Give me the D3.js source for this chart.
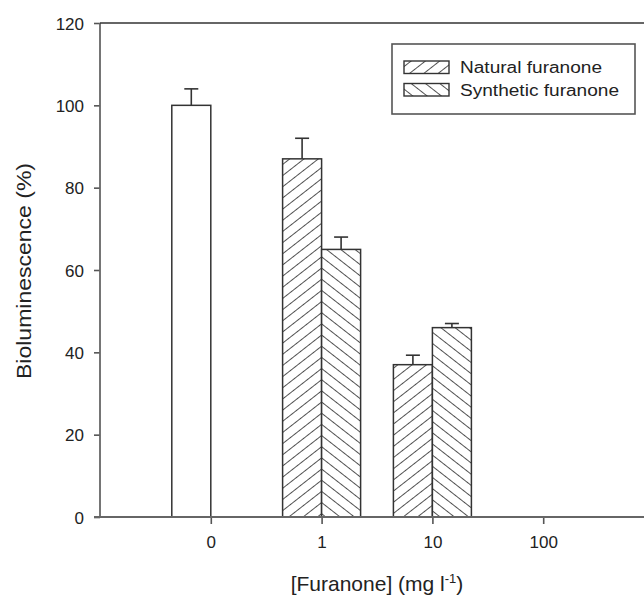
<!DOCTYPE html>
<html>
<head>
<meta charset="utf-8">
<script src="https://cdn.jsdelivr.net/npm/d3@7"></script>
<style>
  body { margin: 0; background: #fff; }
  svg { display: block; font-family: "Liberation Sans", Arial, sans-serif; }
</style>
</head>
<body>
<svg id="chart" width="644" height="601"></svg>
<script>
// chart data
var categories = ['0', '1', '10', '100'];
var controlMean = [100, null, null, null];
var controlErr = [4, null, null, null];
var naturalMean = [null, 87, 37, 0];
var naturalErr = [null, 5, 2.3, 0];
var syntheticMean = [null, 65, 46, 0];
var syntheticErr = [null, 3, 1, 0];
var yTicks = [0, 20, 40, 60, 80, 100, 120];

var svg = d3.select('#chart');

var plotLeft = 100, plotRight = 644, plotTop = 23, plotBottom = 517;
var barW = 39;

var x = d3.scalePoint()
  .domain(categories)
  .range([plotLeft, 654])
  .padding(1);

var y = d3.scaleLinear()
  .domain([0, 120])
  .range([plotBottom, plotTop]);

// hatch patterns
var defs = svg.append('defs');
function hatch(id, angle) {
  var gap = 8.8;
  var p = defs.append('pattern')
    .attr('id', id)
    .attr('patternUnits', 'userSpaceOnUse')
    .attr('width', 20)
    .attr('height', gap)
    .attr('patternTransform', 'rotate(' + angle + ')');
  p.append('rect').attr('width', 20).attr('height', gap).attr('fill', '#fff');
  p.append('line')
    .attr('x1', 0).attr('x2', 20)
    .attr('y1', gap / 2).attr('y2', gap / 2)
    .attr('stroke', '#505050')
    .attr('stroke-width', 1);
}
hatch('natural', -38);
hatch('synthetic', 38);

// build a flat list of bars from the arrays
var bars = [];
categories.forEach(function(c, i) {
  if (controlMean[i] != null) {
    bars.push({ cat: c, v: controlMean[i], err: controlErr[i], off: -barW, fill: '#fff' });
  }
  if (naturalMean[i] != null) {
    bars.push({ cat: c, v: naturalMean[i], err: naturalErr[i], off: -barW, fill: 'url(#natural)' });
  }
  if (syntheticMean[i] != null) {
    bars.push({ cat: c, v: syntheticMean[i], err: syntheticErr[i], off: 0, fill: 'url(#synthetic)' });
  }
});

// error bars (upper only)
var eb = svg.append('g').attr('class', 'errs')
  .selectAll('g')
  .data(bars.filter(function(d) { return d.err > 0; }))
  .enter().append('g')
  .attr('stroke', '#333')
  .attr('stroke-width', 1.6);

eb.append('line')
  .attr('x1', function(d) { return x(d.cat) + d.off + barW / 2; })
  .attr('x2', function(d) { return x(d.cat) + d.off + barW / 2; })
  .attr('y1', function(d) { return y(d.v); })
  .attr('y2', function(d) { return y(d.v + d.err); });

eb.append('line')
  .attr('x1', function(d) { return x(d.cat) + d.off + barW / 2 - 7; })
  .attr('x2', function(d) { return x(d.cat) + d.off + barW / 2 + 7; })
  .attr('y1', function(d) { return y(d.v + d.err); })
  .attr('y2', function(d) { return y(d.v + d.err); });

svg.append('g').attr('class', 'bars')
  .selectAll('rect')
  .data(bars.filter(function(d) { return d.v > 0; }))
  .enter().append('rect')
  .attr('x', function(d) { return x(d.cat) + d.off; })
  .attr('y', function(d) { return y(d.v); })
  .attr('width', barW)
  .attr('height', function(d) { return y(0) - y(d.v); })
  .attr('fill', function(d) { return d.fill; })
  .attr('stroke', '#333')
  .attr('stroke-width', 1.5);

// axes
var yAxis = svg.append('g')
  .attr('transform', 'translate(' + plotLeft + ',0)')
  .call(d3.axisLeft(y).tickValues(yTicks).tickSize(6).tickPadding(10));

var xAxis = svg.append('g')
  .attr('transform', 'translate(0,' + plotBottom + ')')
  .call(d3.axisBottom(x).tickSize(7).tickPadding(12));

[yAxis, xAxis].forEach(function(a) {
  a.select('.domain').remove();
  a.selectAll('line').attr('stroke', '#555').attr('stroke-width', 1.6);
  a.selectAll('text')
    .attr('fill', '#222')
    .style('font-size', '17px')
    .style('font-family', '"Liberation Sans", Arial, sans-serif');
});
yAxis.selectAll('text').attr('dy', '0.36em');

svg.append('line')
  .attr('x1', plotLeft).attr('x2', plotLeft)
  .attr('y1', plotTop).attr('y2', plotBottom)
  .attr('stroke', '#666').attr('stroke-width', 1.8);
svg.append('line')
  .attr('x1', plotLeft - 6).attr('x2', plotRight)
  .attr('y1', plotBottom).attr('y2', plotBottom)
  .attr('stroke', '#666').attr('stroke-width', 1.8);
svg.append('line')
  .attr('x1', plotLeft).attr('x2', plotRight)
  .attr('y1', plotTop).attr('y2', plotTop)
  .attr('stroke', '#333').attr('stroke-width', 1.6);

// axis titles
var xt = svg.append('text')
  .attr('x', 377).attr('y', 591)
  .attr('text-anchor', 'middle')
  .attr('fill', '#222')
  .style('font-size', '21px');
xt.append('tspan').text('[Furanone] (mg l');
xt.append('tspan').attr('dy', -8).style('font-size', '13px').text('-1');
xt.append('tspan').attr('dy', 8).text(')');

svg.append('text')
  .attr('transform', 'translate(31,271) rotate(-90)')
  .attr('text-anchor', 'middle')
  .attr('fill', '#222')
  .attr('textLength', 216)
  .attr('lengthAdjust', 'spacingAndGlyphs')
  .style('font-size', '20px')
  .text('Bioluminescence (%)');

// legend
var legend = svg.append('g').attr('transform', 'translate(392,44)');
legend.append('rect')
  .attr('width', 243).attr('height', 70)
  .attr('fill', '#fff')
  .attr('stroke', '#555').attr('stroke-width', 1.6);

var legendItems = [
  { label: 'Natural furanone', fill: 'url(#natural)', len: 142 },
  { label: 'Synthetic furanone', fill: 'url(#synthetic)', len: 159 }
];
var li = legend.selectAll('g.item')
  .data(legendItems)
  .enter().append('g')
  .attr('class', 'item')
  .attr('transform', function(d, i) { return 'translate(12,' + (17 + i * 22.5) + ')'; });
li.append('rect')
  .attr('width', 45).attr('height', 12.5)
  .attr('fill', function(d) { return d.fill; })
  .attr('stroke', '#333').attr('stroke-width', 1.4);
li.append('text')
  .attr('x', 56).attr('y', 12)
  .attr('fill', '#222')
  .attr('textLength', function(d) { return d.len; })
  .attr('lengthAdjust', 'spacingAndGlyphs')
  .style('font-size', '16px')
  .text(function(d) { return d.label; });
</script>
</body>
</html>
